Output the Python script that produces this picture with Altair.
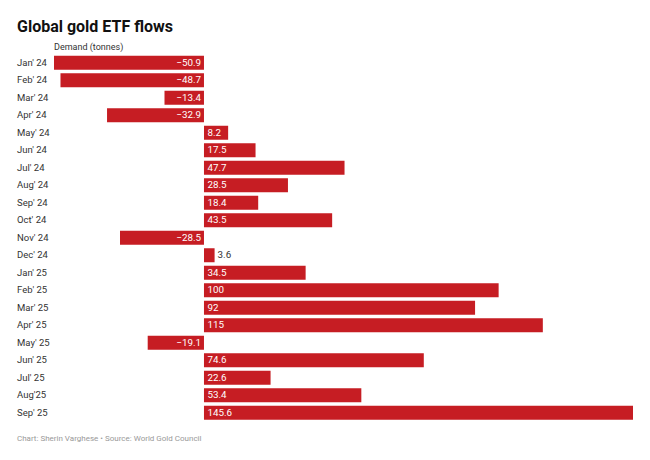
import altair as alt
import pandas as pd

months = ["Jan' 24", "Feb' 24", "Mar' 24", "Apr' 24", "May' 24", "Jun' 24", "Jul' 24",
          "Aug' 24", "Sep' 24", "Oct' 24", "Nov' 24", "Dec' 24", "Jan' 25", "Feb' 25",
          "Mar' 25", "Apr' 25", "May' 25", "Jun' 25", "Jul' 25", "Aug'25", "Sep' 25"]
values = [-50.9, -48.7, -13.4, -32.9, 8.2, 17.5, 47.7, 28.5, 18.4, 43.5, -28.5, 3.6,
          34.5, 100, 92, 115, -19.1, 74.6, 22.6, 53.4, 145.6]

title_text = "Global gold ETF flows"
subtitle_text = "Demand (tonnes)"
footer_text = "Chart: Sherin Varghese • Source: World Gold Council"

RED = "#c61d23"
FONT = "Roboto"

df = pd.DataFrame({
    "month": months,
    "value": values,
    "label": [f"{v:g}".replace("-", "\u2212") for v in values],
})
df["kind"] = ["neg" if v < 0 else ("small" if v < 5 else "pos") for v in values]

xscale = alt.Scale(domain=[-50.9, 145.6], nice=False, zero=False)
yscale = alt.Scale(domain=months, paddingInner=0.2, paddingOuter=0.1)

base = alt.Chart(df)

bars = base.mark_bar(color=RED).encode(
    x=alt.X("value:Q", scale=xscale, axis=None),
    x2=alt.datum(0),
    y=alt.Y("month:N", scale=yscale, axis=None, sort=months),
)

neg_lbl = base.transform_filter(alt.datum.kind == "neg").mark_text(
    align="right", baseline="middle", dx=-3, color="white", font=FONT, fontSize=9.8
).encode(x=alt.datum(0, scale=xscale), y=alt.Y("month:N", scale=yscale, sort=months), text="label:N")

pos_lbl = base.transform_filter(alt.datum.kind == "pos").mark_text(
    align="left", baseline="middle", dx=3.5, color="white", font=FONT, fontSize=9.8
).encode(x=alt.datum(0, scale=xscale), y=alt.Y("month:N", scale=yscale, sort=months), text="label:N")

small_lbl = base.transform_filter(alt.datum.kind == "small").mark_text(
    align="left", baseline="middle", dx=3, color="#333333", font=FONT, fontSize=9.8
).encode(x=alt.X("value:Q", scale=xscale), y=alt.Y("month:N", scale=yscale, sort=months), text="label:N")

month_lbl = base.mark_text(
    align="left", baseline="middle", color="#333333", font=FONT, fontSize=9.5
).encode(x=alt.value(-37), y=alt.Y("month:N", scale=yscale, sort=months), text="month:N")

title = alt.Chart(pd.DataFrame({"t": [title_text]})).mark_text(
    align="left", baseline="alphabetic", font=FONT, fontSize=16, fontWeight="bold", color="#111111"
).encode(x=alt.value(-37), y=alt.value(-22), text="t:N")

subtitle = alt.Chart(pd.DataFrame({"t": [subtitle_text]})).mark_text(
    align="left", baseline="middle", font=FONT, fontSize=9, color="#333333"
).encode(x=alt.value(0), y=alt.value(-7), text="t:N")

footer = alt.Chart(pd.DataFrame({"t": [footer_text]})).mark_text(
    align="left", baseline="middle", font=FONT, fontSize=8, color="#999999"
).encode(x=alt.value(-37), y=alt.value(385), text="t:N")

chart = alt.layer(bars, neg_lbl, pos_lbl, small_lbl, month_lbl, title, subtitle, footer).properties(
    width=579,
    height=367.5,
    autosize=alt.AutoSizeParams(type="none"),
    padding={"left": 46, "top": 46, "right": 9, "bottom": 30},
).configure_view(stroke=None)

chart.save("out.html", embed_options={"renderer": "svg", "actions": False})
